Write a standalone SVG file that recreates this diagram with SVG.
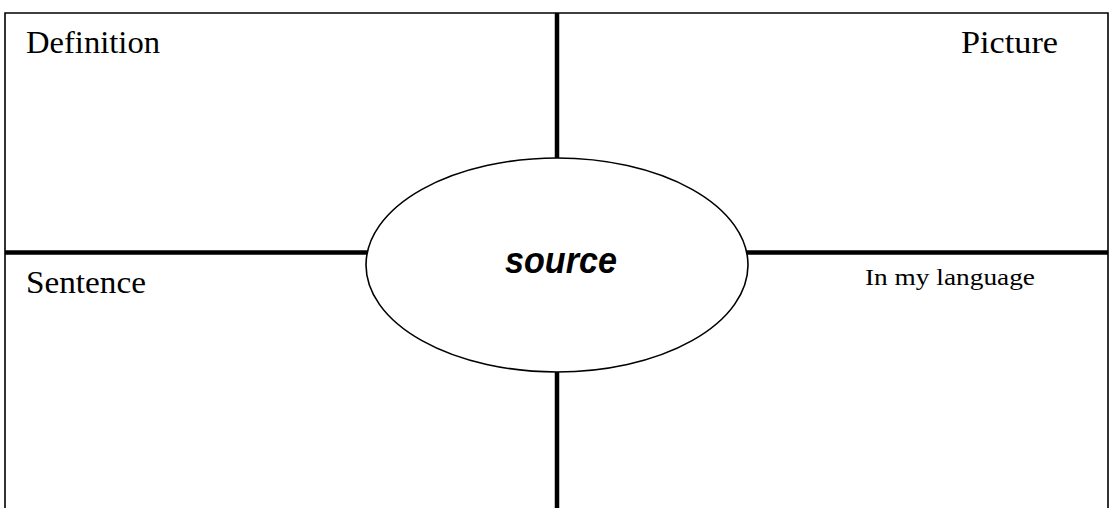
<svg xmlns="http://www.w3.org/2000/svg" width="1110" height="508" viewBox="0 0 1110 508">
  <style>
    .frame { fill: none; stroke: #000; stroke-width: 1.6; }
    .divider { stroke: #000; stroke-width: 4.5; }
    .oval { fill: #fff; stroke: #000; stroke-width: 1.6; }
    .label { font-family: "Liberation Serif", "Times New Roman", serif; fill: #000; }
    .word { font-family: "Liberation Sans", Arial, sans-serif; font-weight: bold; font-style: italic; fill: #000; }
  </style>
  <rect width="1110" height="508" fill="#fff"/>
  <!-- outer frame: open at the bottom -->
  <path class="frame" d="M5,508 V13 H1108 V508"/>
  <g id="connectors">
    <line class="divider" x1="557" y1="13" x2="557" y2="160"/>
    <line class="divider" x1="557" y1="370" x2="557" y2="508"/>
    <line class="divider" x1="5" y1="252.5" x2="368" y2="252.5"/>
    <line class="divider" x1="746" y1="252.5" x2="1108" y2="252.5"/>
  </g>
  <g id="definition">
    <text class="label" x="26" y="53" font-size="32" textLength="134" lengthAdjust="spacingAndGlyphs">Definition</text>
  </g>
  <g id="picture">
    <text class="label" x="961" y="53" font-size="32" textLength="97" lengthAdjust="spacingAndGlyphs">Picture</text>
  </g>
  <g id="sentence">
    <text class="label" x="26" y="293" font-size="32" textLength="120" lengthAdjust="spacingAndGlyphs">Sentence</text>
  </g>
  <g id="in-my-language">
    <text class="label" x="865" y="285" font-size="24" textLength="170" lengthAdjust="spacingAndGlyphs">In my language</text>
  </g>
  <g id="source">
    <ellipse class="oval" cx="557" cy="265" rx="191" ry="107"/>
    <text class="word" x="505" y="273" font-size="36" textLength="112" lengthAdjust="spacingAndGlyphs">source</text>
  </g>
</svg>
